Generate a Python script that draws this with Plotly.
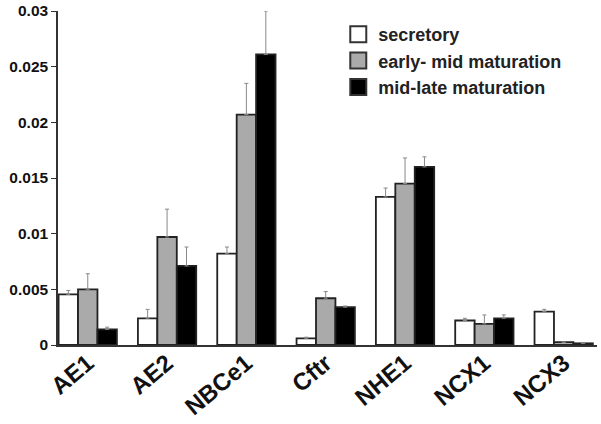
import plotly.graph_objects as go

genes = ["AE1", "AE2", "NBCe1", "Cftr", "NHE1", "NCX1", "NCX3"]

secretory = [0.00455, 0.0024, 0.0082, 0.0006, 0.0133, 0.0022, 0.0030]
secretory_err = [0.00035, 0.0008, 0.0006, 0.0001, 0.0008, 0.0002, 0.0002]

early_mid = [0.0050, 0.0097, 0.0207, 0.0042, 0.0145, 0.0019, 0.00025]
early_mid_err = [0.0014, 0.0025, 0.0028, 0.0006, 0.0023, 0.0008, 0.0]

mid_late = [0.0014, 0.0071, 0.0261, 0.0034, 0.0160, 0.0024, 0.00015]
mid_late_err = [0.0002, 0.0017, 0.0039, 0.0001, 0.0009, 0.0003, 0.0]

series = [
    ("secretory", secretory, secretory_err, "#ffffff"),
    ("early- mid maturation", early_mid, early_mid_err, "#aaaaaa"),
    ("mid-late maturation", mid_late, mid_late_err, "#000000"),
]

fig = go.Figure()
for name, vals, errs, color in series:
    fig.add_trace(go.Bar(
        x=genes, y=vals, name=name, showlegend=False,
        marker=dict(color=color, line=dict(color="#222222", width=1.8)),
        error_y=dict(type="data", symmetric=False, array=errs,
                     arrayminus=[0] * len(errs), color="#888888",
                     thickness=1, width=2),
    ))
    # legend entry with a bigger square swatch
    fig.add_trace(go.Scatter(
        x=[None], y=[None], mode="markers", name=name,
        marker=dict(symbol="square", size=20, color=color,
                    line=dict(color="#333333", width=2)),
    ))

fig.update_layout(
    width=601, height=424,
    margin=dict(l=58, r=4, t=11, b=79),
    paper_bgcolor="white", plot_bgcolor="white",
    barmode="group", bargap=0.265, bargroupgap=0,
    font=dict(family="Liberation Sans, Arial, sans-serif", color="#1a1a1a"),
    legend=dict(x=0.52, y=0.985, xanchor="left", yanchor="top",
                font=dict(size=18, weight="bold", color="#222222",
                          family="Liberation Sans, Arial, sans-serif"),
                bgcolor="rgba(0,0,0,0)", itemsizing="trace"),
)
fig.update_xaxes(
    range=[-0.375, 6.42], showline=True, linecolor="#333333", linewidth=1.5,
    tickangle=-40, ticks="", tickfont=dict(size=24, color="#111111"),
    tickprefix="<b>", ticksuffix="</b>", showgrid=False,
    automargin=False, ticklabelstandoff=-7,
)
fig.update_yaxes(
    range=[0, 0.03], dtick=0.005, showline=True, linecolor="#333333",
    linewidth=1.5, ticks="outside", ticklen=5, tickcolor="#333333",
    tickfont=dict(size=15.5, color="#111111"), tickprefix="<b>",
    ticksuffix="</b>", showgrid=False, zeroline=False, tickformat="~g",
    automargin=False,
)

# drop the default page margin so the figure sits at the window's corner
fig.write_html("out.html", config={"displayModeBar": False},
               post_script="document.body.style.margin='0';")
